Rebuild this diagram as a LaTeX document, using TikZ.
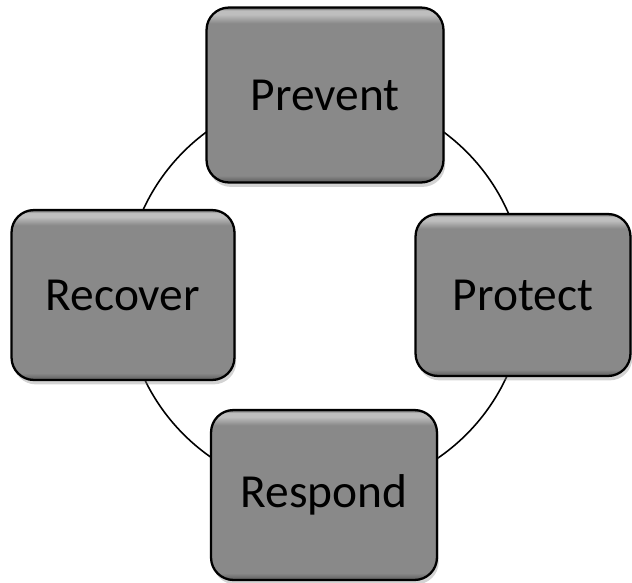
\documentclass[tikz,border=0pt]{standalone}
\usepackage{fontspec}
\setmainfont{Carlito}
\usetikzlibrary{shadows}

\definecolor{boxgray}{RGB}{137,137,137}
\definecolor{boxdark}{RGB}{90,90,90}
\definecolor{boxlight}{RGB}{190,190,190}
\pgfdeclareverticalshading{bevel}{100bp}{color(0bp)=(boxdark); color(25bp)=(boxdark); color(27bp)=(boxgray); color(70.5bp)=(boxgray); color(73bp)=(boxlight); color(74.2bp)=(boxlight); color(75bp)=(boxdark); color(100bp)=(boxdark)}

\tikzset{
  stage/.style={draw=black, line width=1.3pt, rounded corners=0.45cm,
    shading=bevel, inner sep=0pt,
    drop shadow={opacity=0.35, shadow xshift=1pt, shadow yshift=-2.5pt},
    font=\fontsize{27}{32}\selectfont},
  ring/.style={draw=black, line width=0.9pt}
}

\begin{document}
\begin{tikzpicture}[x=0.02cm, y=-0.02cm]
  \useasboundingbox (0,0) rectangle (632,582);
  \coordinate (c) at (325,293);
  \draw[ring] (c) circle[radius=4cm];
  \node[stage, minimum width=4.74cm, minimum height=3.5cm] (prevent) at (325,95) {Prevent};
  \node[stage, minimum width=4.3cm, minimum height=3.24cm] (protect) at (523,295) {Protect};
  \node[stage, minimum width=4.52cm, minimum height=3.4cm] (respond) at (324,495) {Respond};
  \node[stage, minimum width=4.46cm, minimum height=3.4cm] (recover) at (123,295) {Recover};
\end{tikzpicture}
\end{document}
